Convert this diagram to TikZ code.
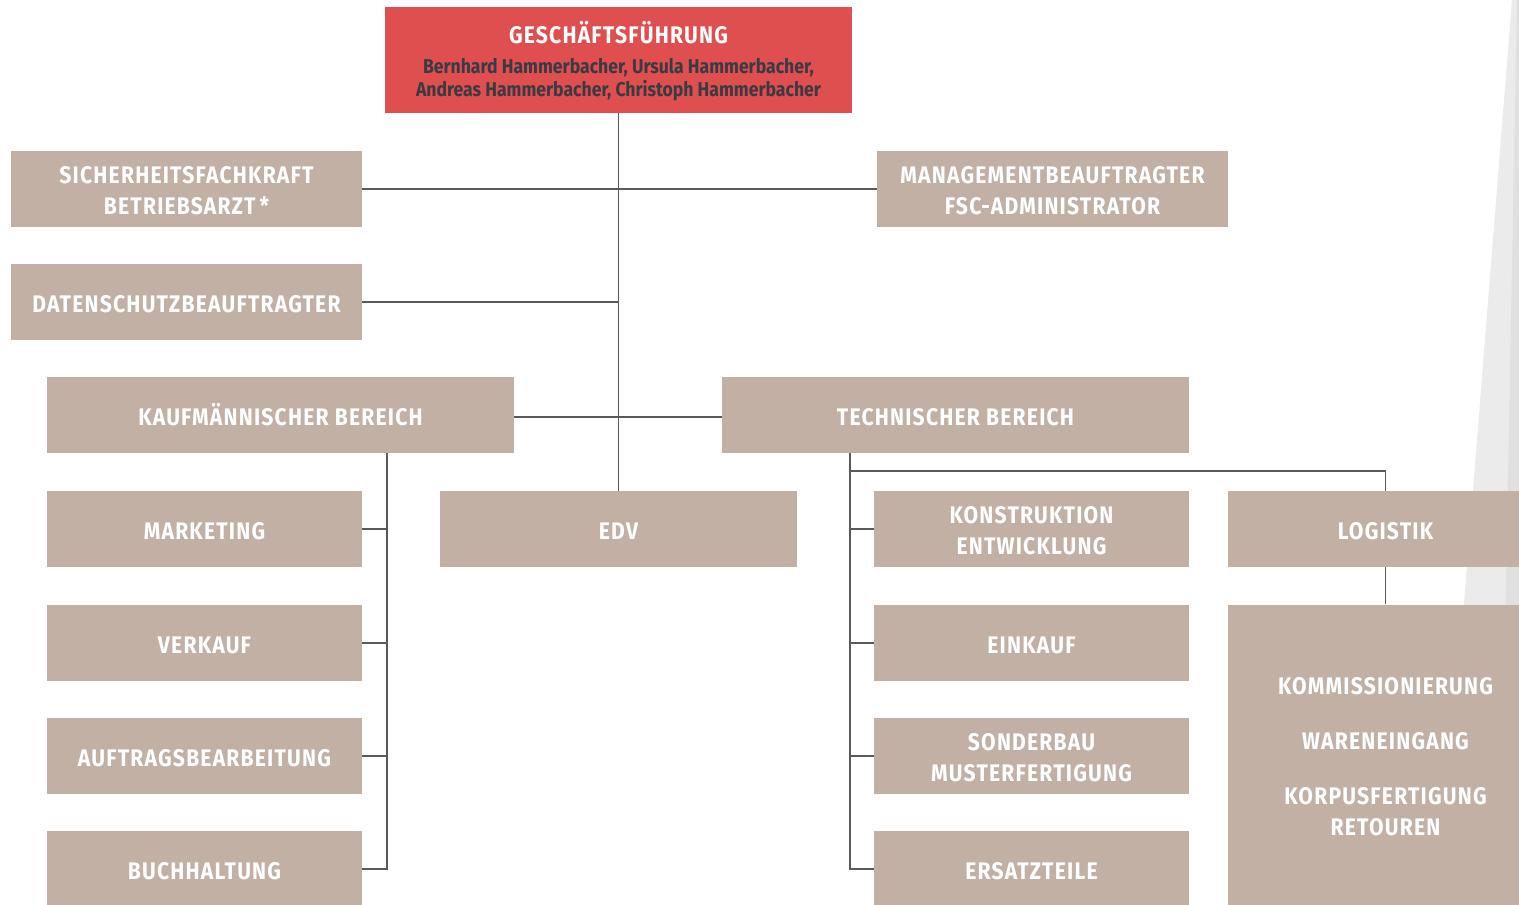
\documentclass[tikz,border=0pt]{standalone}
\usepackage{fontspec}
\setmainfont{Fira Sans}[FakeStretch=0.88,LetterSpace=5]
\definecolor{boxc}{HTML}{C1B0A3}
\definecolor{gfred}{HTML}{DF4F4F}
\definecolor{namec}{HTML}{3A3A42}
\definecolor{linec}{HTML}{5A5A5A}
\definecolor{wedge}{HTML}{EBEBEC}
\newcommand{\tl}{\rule{0pt}{26pt}}
\begin{document}
\begin{tikzpicture}[x=1pt,y=-1pt,
  box/.style={fill=boxc,text=white,inner sep=0pt,align=center,
    font=\bfseries\fontsize{24}{31}\selectfont,
    execute at begin node={\rule{0pt}{27pt}},execute at end node={\vphantom{g}}},
  lbox/.style={box,minimum width=315pt,minimum height=76pt},
  wbox/.style={box,minimum width=467pt,minimum height=76pt},
  sbox/.style={box,minimum width=351pt,minimum height=76pt},
  conn/.style={draw=linec,line width=1.3pt}]
\clip (0,0) rectangle (1519,905);
\fill[white] (0,0) rectangle (1519,905);
% background wedge
\fill[wedge] (1512,0) -- (1519,0) -- (1519,905) -- (1440,905) -- cycle;
\fill[white!88!black] (1517,0) -- (1519,0) -- (1519,905) -- (1500,905) -- cycle;

% nodes
\node[fill=gfred,minimum width=467pt,minimum height=106pt,inner sep=0pt] (gf) at (618.5,60) {};
\node[anchor=base,inner sep=0pt,text=white,font=\bfseries\fontsize{24}{30}\selectfont] (gft) at (618.5,43) {GESCHÄFTSFÜHRUNG};
\node[anchor=base,inner sep=0pt,text=namec,align=center,font=\bfseries\fontsize{20}{23}\selectfont\addfontfeature{LetterSpace=0}] (gfn) at (618.5,96)
  {Bernhard Hammerbacher, Ursula Hammerbacher,\\Andreas Hammerbacher, Christoph Hammerbacher};
\node[sbox] (sich) at (186.5,189) {\tl SICHERHEITSFACHKRAFT\\BETRIEBSARZT\,*};
\node[sbox] (mgmt) at (1052.5,189) {\tl MANAGEMENTBEAUFTRAGTER\\FSC-ADMINISTRATOR};
\node[sbox] (dat) at (186.5,302) {DATENSCHUTZBEAUFTRAGTER};
\node[wbox] (kauf) at (280.5,415) {KAUFMÄNNISCHER BEREICH};
\node[wbox] (tech) at (955.5,415) {TECHNISCHER BEREICH};
\node[lbox] (mk) at (204.5,529) {MARKETING};
\node[box,minimum width=357pt,minimum height=76pt] (edv) at (618.5,529) {EDV};
\node[lbox] (kon) at (1031.5,529) {\tl KONSTRUKTION\\ENTWICKLUNG};
\node[lbox] (log) at (1385.5,529) {LOGISTIK};
\node[lbox] (vk) at (204.5,643) {VERKAUF};
\node[lbox] (ek) at (1031.5,643) {EINKAUF};
\node[lbox] (ab) at (204.5,756) {AUFTRAGSBEARBEITUNG};
\node[lbox] (sb) at (1031.5,756) {\tl SONDERBAU\\MUSTERFERTIGUNG};
\node[lbox] (bh) at (204.5,869) {BUCHHALTUNG};
\node[lbox] (et) at (1031.5,869) {ERSATZTEILE};
\node[box,minimum width=315pt,minimum height=301pt] (kom) at (1385.5,755)
  {\tl KOMMISSIONIERUNG\\[24pt]WARENEINGANG\\[24pt]KORPUSFERTIGUNG\\RETOUREN};

% connectors
\coordinate (kv) at (387,453);
\coordinate (tv) at (850,453);
\coordinate (tj) at (850,471);
\draw[conn] (gf.south) -- (edv.north);
\draw[conn] (sich.east) -- (mgmt.west);
\draw[conn] (dat.east) -- (dat.east -| gf.south);
\draw[conn] ([yshift=-2pt]kauf.east) -- ([yshift=-2pt]tech.west);
\draw[conn] (kv) |- (bh.east);
\draw[conn] (mk.east) -- (mk.east -| kv);
\draw[conn] (vk.east) -- (vk.east -| kv);
\draw[conn] (ab.east) -- (ab.east -| kv);
\draw[conn] (tv) |- (et.west);
\draw[conn] (kon.west) -- (kon.west -| tv);
\draw[conn] (ek.west) -- (ek.west -| tv);
\draw[conn] (sb.west) -- (sb.west -| tv);
\draw[conn] (tj) -| (log.north);
\draw[conn] (log.south) -- (kom.north);
\end{tikzpicture}
\end{document}
